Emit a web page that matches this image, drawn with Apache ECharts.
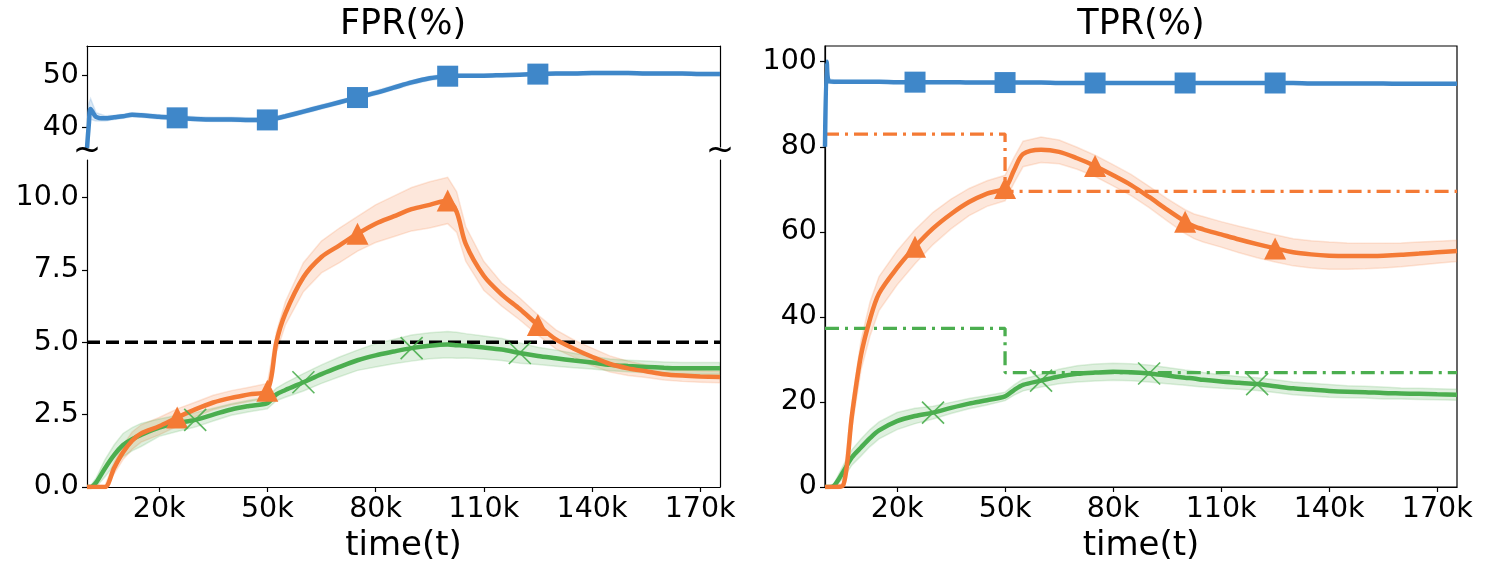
<!DOCTYPE html>
<html lang="en">
<head>
    <meta charset="UTF-8">
    <title>FPR / TPR over time</title>
    <script src="https://cdn.jsdelivr.net/npm/echarts/dist/echarts.min.js"></script>
</head>
<style>
    html, body {
        margin: 0;
        padding: 0;
        background: #fff;
    }
    #chart {
        width: 1487px;
        height: 575px;
    }
</style>
<body>
<div id="chart"></div>
<script>
    // time points, in thousands
    var T = [0, 0.5, 1, 2.5, 5, 7.5, 10, 12.5, 15, 20, 25, 30, 35, 40, 45, 50, 52.5, 55, 60, 65, 70, 75, 80, 85, 90,
        95, 100, 102.5, 105, 110, 115, 120, 125, 130, 135, 140, 145, 150, 155, 160, 165, 170, 175.5];

    // FPR(%)
    var fprBlue = [36, 40.5, 43.5, 42.0, 41.7, 41.9, 42.1, 42.4, 42.3, 42.0, 41.8, 41.6, 41.5, 41.5, 41.4, 41.4, 41.7,
        42.1, 43.0, 43.9, 44.8, 45.7, 46.6, 47.6, 48.6, 49.4, 49.8, 49.9, 49.9, 49.9, 50.0, 50.1, 50.2, 50.3, 50.3,
        50.4, 50.4, 50.4, 50.3, 50.3, 50.3, 50.2, 50.2];
    var fprBlueSd = [6.5, 4, 2, 0.8, 0.5, 0.4, 0.4, 0.4, 0.4, 0.4, 0.4, 0.4, 0.4, 0.4, 0.4, 0.4, 0.4, 0.4, 0.4, 0.4,
        0.4, 0.4, 0.4, 0.4, 0.4, 0.4, 0.4, 0.3, 0.3, 0.3, 0.3, 0.3, 0.3, 0.3, 0.3, 0.3, 0.3, 0.3, 0.3, 0.3, 0.3, 0.3, 0.3];
    var fprOrange = [0, 0, 0, 0, 0, 0.65, 1.2, 1.6, 1.85, 2.1, 2.4, 2.68, 2.92, 3.08, 3.2, 3.33, 5.0, 6.0, 7.25, 7.95,
        8.35, 8.75, 9.1, 9.35, 9.6, 9.75, 9.9, 9.5, 8.4, 7.3, 6.65, 6.15, 5.6, 5.1, 4.78, 4.5, 4.25, 4.1, 4.0, 3.9,
        3.85, 3.82, 3.8];
    var fprOrangeSd = [0.05, 0.05, 0.05, 0.05, 0.05, 0.2, 0.25, 0.3, 0.3, 0.3, 0.3, 0.25, 0.25, 0.25, 0.25, 0.25, 0.35,
        0.4, 0.5, 0.55, 0.6, 0.6, 0.65, 0.7, 0.75, 0.8, 0.8, 0.7, 0.6, 0.5, 0.4, 0.38, 0.35, 0.33, 0.3, 0.3, 0.28, 0.25,
        0.22, 0.2, 0.2, 0.2, 0.2];
    var fprGreen = [0, 0, 0, 0.15, 0.65, 1.1, 1.45, 1.65, 1.8, 2.05, 2.2, 2.32, 2.5, 2.68, 2.8, 2.9, 3.2, 3.35, 3.62,
        3.9, 4.15, 4.38, 4.55, 4.68, 4.8, 4.88, 4.92, 4.9, 4.88, 4.82, 4.75, 4.63, 4.53, 4.45, 4.37, 4.3, 4.22, 4.18,
        4.15, 4.12, 4.1, 4.1, 4.1];
    var fprGreenSd = [0.05, 0.05, 0.05, 0.15, 0.3, 0.35, 0.4, 0.4, 0.4, 0.3, 0.28, 0.25, 0.22, 0.2, 0.2, 0.2, 0.22,
        0.25, 0.3, 0.32, 0.34, 0.35, 0.4, 0.42, 0.45, 0.45, 0.45, 0.45, 0.42, 0.4, 0.38, 0.35, 0.3, 0.28, 0.25, 0.22,
        0.2, 0.2, 0.2, 0.2, 0.2, 0.2, 0.2];
    var fprTarget = 5;

    // TPR(%)
    var tprBlue = [80, 100, 95.5, 95.3, 95.3, 95.3, 95.3, 95.3, 95.3, 95.2, 95.2, 95.2, 95.2, 95.1, 95.1, 95.1, 95.1,
        95.1, 95.1, 95.0, 95.0, 95.0, 95.0, 95.0, 95.0, 95.0, 95.0, 95.0, 95.0, 95.0, 95.0, 95.0, 95.0, 95.0, 94.9,
        94.9, 94.9, 94.9, 94.9, 94.8, 94.8, 94.8, 94.8];
    var tprBlueSd = [0.5, 0.5, 0.5, 0.4, 0.3, 0.3, 0.3, 0.3, 0.3, 0.3, 0.3, 0.3, 0.3, 0.3, 0.3, 0.3, 0.3, 0.3, 0.3, 0.3,
        0.3, 0.3, 0.3, 0.3, 0.3, 0.3, 0.3, 0.3, 0.3, 0.3, 0.3, 0.3, 0.3, 0.3, 0.3, 0.3, 0.3, 0.3, 0.3, 0.3, 0.3, 0.3, 0.3];
    var tprOrange = [0, 0, 0, 0, 0.3, 17, 31, 39.5, 45.5, 51.5, 56.5, 60.8, 64.2, 67, 69, 70.3, 74.5, 78.3, 79.3, 78.8,
        77.3, 75.5, 73.3, 71, 68.2, 65.2, 62.4, 61.3, 60.6, 59.4, 58.2, 57.1, 56.1, 55.2, 54.7, 54.4, 54.3, 54.3, 54.4,
        54.6, 54.9, 55.2, 55.5];
    var tprOrangeSd = [0.3, 0.3, 0.3, 0.3, 0.5, 3, 3.5, 4, 4, 4, 4, 3.8, 3.5, 3.2, 3, 3, 3, 3, 3, 2.8, 2.6, 2.5, 2.5,
        2.5, 2.5, 2.6, 2.8, 2.9, 3, 3, 3.1, 3.2, 3.2, 3.2, 3.2, 3.2, 3.1, 3, 2.9, 2.8, 2.7, 2.6, 2.5];
    var tprGreen = [0, 0, 0, 0.3, 3.5, 7, 9.3, 11.5, 13.3, 15.5, 16.7, 17.5, 18.6, 19.6, 20.4, 21.3, 22.8, 24, 25, 26,
        26.6, 26.9, 27.1, 27, 26.7, 26.2, 25.7, 25.5, 25.2, 24.8, 24.5, 24.2, 23.7, 23.2, 22.9, 22.6, 22.4, 22.3, 22.1,
        22.0, 21.9, 21.8, 21.7];
    var tprGreenSd = [0.2, 0.2, 0.2, 0.5, 1.5, 1.8, 2, 2, 2, 2, 1.8, 1.5, 1.3, 1.2, 1.1, 1, 1.2, 1.4, 1.5, 1.7, 1.9, 2,
        2, 2, 2, 1.9, 1.8, 1.8, 1.7, 1.6, 1.5, 1.5, 1.5, 1.5, 1.5, 1.5, 1.4, 1.4, 1.4, 1.3, 1.3, 1.3, 1.3];
    // threshold steps (t in thousands)
    var tprOrangeStepT = [0, 50, 50, 175.5];
    var tprOrangeStep = [83, 83, 69.5, 69.5];
    var tprGreenStepT = [0, 50, 50, 175.5];
    var tprGreenStep = [37.3, 37.3, 26.9, 26.9];

    // marker positions and ticks
    var marksSquareTri = [25, 50, 75, 100, 125];
    var marksCross = [30, 60, 90, 120];
    var xTicks = [20, 50, 80, 110, 140, 170];
    var fprTopTicks = [40, 50];
    var fprBottomTicks = [0, 2.5, 5, 7.5, 10];
    var tprTicks = [0, 20, 40, 60, 80, 100];

    var BLUE = '#3f87c9', ORANGE = '#f47a35', GREEN = '#4bae4f';
    var FONT = 'DejaVu Sans';
    var X_MAX = 175500;

    function pairs(ts, ys) {
        return ts.map(function (t, i) { return [t * 1000, ys[i]]; });
    }
    function marks(ys, at) {
        return at.map(function (t) { return [t * 1000, ys[T.indexOf(t)]]; });
    }

    function band(ys, sd, color, xi, yi) {
        return {
            type: 'custom', xAxisIndex: xi, yAxisIndex: yi, clip: true, silent: true, z: 1,
            data: [[0, 0]],
            renderItem: function (params, api) {
                var pts = [], i;
                for (i = 0; i < T.length; i++) pts.push(api.coord([T[i] * 1000, ys[i] + sd[i]]));
                for (i = T.length - 1; i >= 0; i--) pts.push(api.coord([T[i] * 1000, ys[i] - sd[i]]));
                return {
                    type: 'polygon',
                    shape: {points: pts},
                    style: {fill: color, opacity: 0.18, stroke: color, lineWidth: 1.5}
                };
            }
        };
    }
    function line(ys, color, xi, yi) {
        return {
            type: 'line', xAxisIndex: xi, yAxisIndex: yi, data: pairs(T, ys),
            showSymbol: false, smooth: 0.3, z: 3, silent: true,
            lineStyle: {color: color, width: 4.5}
        };
    }
    function markers(ys, at, symbol, size, xi, yi, style) {
        return {
            type: 'scatter', xAxisIndex: xi, yAxisIndex: yi, data: marks(ys, at),
            symbol: symbol, symbolSize: size, z: 4, silent: true, itemStyle: style
        };
    }
    var CROSS = 'path://M0,0L10,10M10,0L0,10';
    var crossStyle = {color: 'rgba(0,0,0,0)', borderColor: GREEN, borderWidth: 1.6, opacity: 0.9};

    function xAxis(grid, labels) {
        var ticks = xTicks.map(function (v) { return v * 1000; });
        return {
            type: 'value', gridIndex: grid, min: 0, max: X_MAX,
            position: labels ? 'bottom' : 'top',
            splitLine: {show: false},
            axisLine: {show: true, onZero: false, lineStyle: {color: '#000', width: 1.2}},
            axisTick: {show: labels, length: 5, customValues: ticks, lineStyle: {color: '#000', width: 1.2}},
            axisLabel: {show: labels, customValues: ticks,
                formatter: function (v) { return v / 1000 + 'k'; },
                color: '#000', fontSize: 28.5, fontFamily: FONT, margin: 8},
            name: labels ? 'time(t)' : '', nameLocation: 'middle', nameGap: 42,
            nameTextStyle: {color: '#000', fontSize: 34, fontFamily: FONT}
        };
    }
    function yAxis(grid, min, max, ticks, fmt, right) {
        var a = {
            type: 'value', gridIndex: grid, min: min, max: max, position: right ? 'right' : 'left',
            splitLine: {show: false},
            axisLine: {show: true, onZero: false, lineStyle: {color: '#000', width: 1.2}},
            axisTick: {show: !right, length: 5, lineStyle: {color: '#000', width: 1.2}},
            axisLabel: {show: !right, color: '#000', fontSize: 28.5, fontFamily: FONT, margin: 8}
        };
        if (ticks) {
            a.axisTick.customValues = ticks;
            a.axisLabel.customValues = ticks;
        }
        if (fmt) a.axisLabel.formatter = fmt;
        return a;
    }

    var chart = echarts.init(document.getElementById('chart'), null, {renderer: 'canvas'});
    var option = {
        animation: false,
        backgroundColor: '#fff',
        grid: [
            {left: 87, top: 46, width: 633, height: 101},
            {left: 87, top: 160, width: 633, height: 327},
            {left: 825, top: 46, width: 632, height: 441, show: true, borderColor: '#000', borderWidth: 1.2}
        ],
        xAxis: [xAxis(0, false), xAxis(1, true), xAxis(2, true)],
        yAxis: [
            yAxis(0, 36.2, 55.6, fprTopTicks),
            yAxis(0, 36.2, 55.6, null, null, true),
            yAxis(1, 0, 11.3, fprBottomTicks, function (v) { return v.toFixed(1); }),
            yAxis(1, 0, 11.3, null, null, true),
            yAxis(2, 0, 103.7, tprTicks)
        ],
        series: [
            // FPR upper part
            band(fprBlue, fprBlueSd, BLUE, 0, 0),
            line(fprBlue, BLUE, 0, 0),
            markers(fprBlue, marksSquareTri, 'rect', 21, 0, 0, {color: BLUE, opacity: 1}),
            // FPR lower part
            band(fprOrange, fprOrangeSd, ORANGE, 1, 2),
            band(fprGreen, fprGreenSd, GREEN, 1, 2),
            {
                type: 'line', xAxisIndex: 1, yAxisIndex: 2, data: [[0, fprTarget], [X_MAX, fprTarget]],
                showSymbol: false, silent: true, z: 2,
                lineStyle: {color: '#000', width: 3.5, type: [13, 6]}
            },
            line(fprGreen, GREEN, 1, 2),
            line(fprOrange, ORANGE, 1, 2),
            markers(fprOrange, marksSquareTri, 'triangle', 22, 1, 2, {color: ORANGE, opacity: 1}),
            markers(fprGreen, marksCross, CROSS, 22, 1, 2, crossStyle),
            // TPR
            band(tprBlue, tprBlueSd, BLUE, 2, 4),
            band(tprOrange, tprOrangeSd, ORANGE, 2, 4),
            band(tprGreen, tprGreenSd, GREEN, 2, 4),
            {
                type: 'line', xAxisIndex: 2, yAxisIndex: 4, data: pairs(tprOrangeStepT, tprOrangeStep),
                showSymbol: false, silent: true, z: 2,
                lineStyle: {color: ORANGE, width: 3.3, type: [14, 6, 3, 6]}
            },
            {
                type: 'line', xAxisIndex: 2, yAxisIndex: 4, data: pairs(tprGreenStepT, tprGreenStep),
                showSymbol: false, silent: true, z: 2,
                lineStyle: {color: GREEN, width: 3.3, type: [14, 6, 3, 6]}
            },
            line(tprBlue, BLUE, 2, 4),
            line(tprGreen, GREEN, 2, 4),
            line(tprOrange, ORANGE, 2, 4),
            markers(tprBlue, marksSquareTri, 'rect', 21, 2, 4, {color: BLUE, opacity: 1}),
            markers(tprOrange, marksSquareTri, 'triangle', 22, 2, 4, {color: ORANGE, opacity: 1}),
            markers(tprGreen, marksCross, CROSS, 22, 2, 4, crossStyle)
        ],
        graphic: [
            {type: 'text', x: 403, y: 25, style: {text: 'FPR(%)', fontSize: 35, fontFamily: FONT, fill: '#000',
                textAlign: 'center', textVerticalAlign: 'middle'}},
            {type: 'text', x: 1141, y: 25, style: {text: 'TPR(%)', fontSize: 35, fontFamily: FONT, fill: '#000',
                textAlign: 'center', textVerticalAlign: 'middle'}},
            // broken axis marks
            {type: 'text', x: 87, y: 151, z: 10, style: {text: '~', fontSize: 34, fontFamily: FONT, fill: '#000',
                textAlign: 'center', textVerticalAlign: 'middle'}},
            {type: 'text', x: 720, y: 151, z: 10, style: {text: '~', fontSize: 34, fontFamily: FONT, fill: '#000',
                textAlign: 'center', textVerticalAlign: 'middle'}}
        ]
    };
    chart.setOption(option);
</script>
</body>
</html>
